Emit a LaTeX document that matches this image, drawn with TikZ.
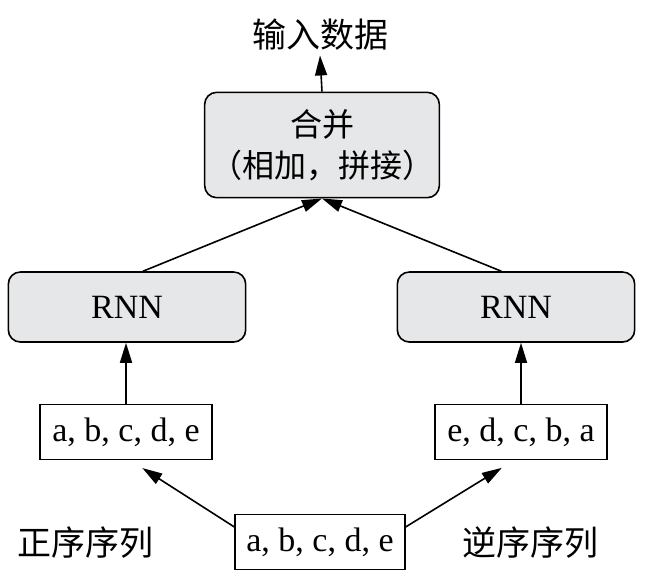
\documentclass[tikz,border=0pt]{standalone}
\usepackage{fontspec}
\setmainfont{Liberation Serif}
\newfontfamily\cjk{Noto Sans CJK SC}
\usepackage{xcolor}
\usetikzlibrary{arrows.meta}
\definecolor{boxgray}{RGB}{230,231,232}

\begin{document}
\begin{tikzpicture}[x=0.75pt,y=0.75pt,yscale=-1,xscale=1,
  txt/.style={font=\fontsize{25.5}{31}\selectfont},
  grybox/.style={txt,draw,line width=1.2pt,fill=boxgray,rounded corners=9pt,align=center},
  seqbox/.style={txt,draw,line width=1.2pt,fill=white,minimum width=129pt,minimum height=41pt,inner sep=0pt},
  arr/.style={line width=1.2pt,-{Triangle[length=15pt,width=9pt]}}]
\useasboundingbox (0,0) rectangle (650,576);

%Rounded Rect: merge
\node [grybox,minimum width=176pt,minimum height=79pt] (merge) at (322,145) {\cjk\fontsize{24}{30}\selectfont 合并\\\cjk\fontsize{24}{30}\selectfont （相加，拼接）};
%Rounded Rect: rnn left and right
\node [grybox,minimum width=178pt,minimum height=52.5pt] (rnnL) at (127,307) {RNN};
\node [grybox,minimum width=178pt,minimum height=52.5pt] (rnnR) at (516,307) {RNN};
%Rect: sequences
\node [seqbox] (seqL) at (126,432) {a, b, c, d, e};
\node [seqbox] (seqR) at (521,432) {e, d, c, b, a};
\node [seqbox,minimum width=127.5pt] (seqIn) at (320,542) {a, b, c, d, e};

% Text Node
\node [txt] (out) at (320,35) {\cjk 输入数据};
% Text Node
\node [txt] (fwd) at (85,543) {\cjk 正序序列};
% Text Node
\node [txt] (bwd) at (530,543) {\cjk 逆序序列};

%Straight Lines
\draw [arr] (merge.north) -- (out.south);
\draw [arr] ([xshift=12pt]rnnL.north) -- (merge.south);
\draw [arr] ([xshift=-11pt]rnnR.north) -- (merge.south);
\draw [arr] (seqL.north) -- (seqL.north |- rnnL.south);
\draw [arr] (seqR.north) -- (seqR.north |- rnnR.south);
\draw [arr,shorten >=11pt] (seqIn.170) -- ([xshift=3pt]seqL.south);
\draw [arr,shorten >=11pt] (seqIn.10) -- ([xshift=-5pt]seqR.south);

\end{tikzpicture}
\end{document}
